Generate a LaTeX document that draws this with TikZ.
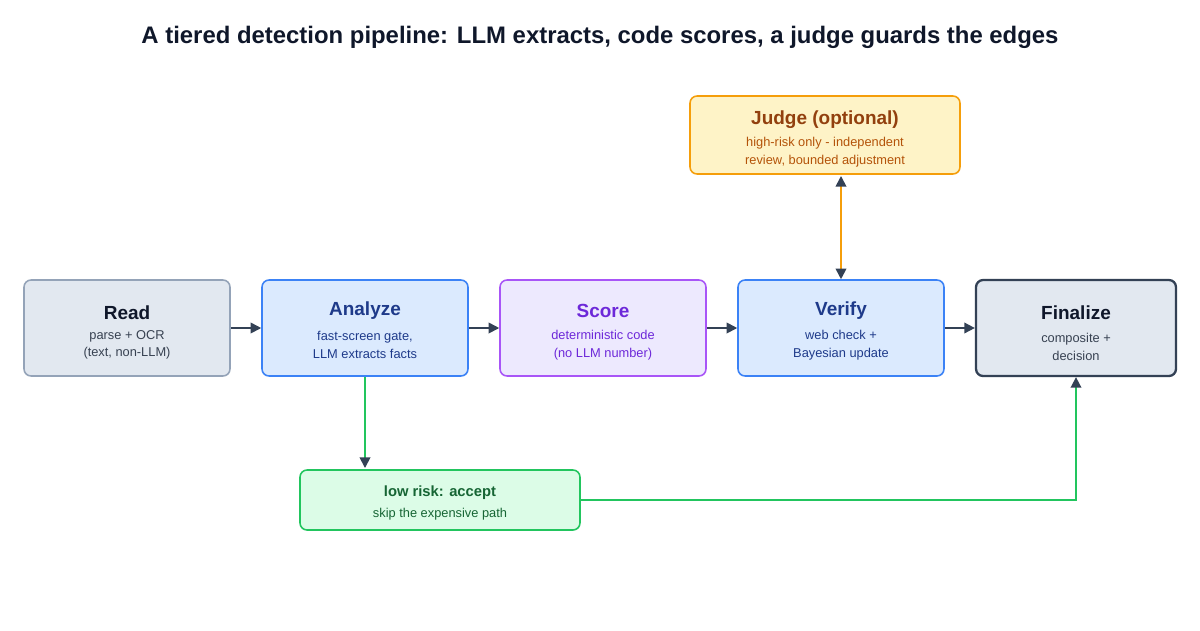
\documentclass[tikz,border=0pt]{standalone}
\usepackage{fontspec}
\setmainfont{Liberation Sans}
\usetikzlibrary{arrows.meta}
\definecolor{grayfill}{HTML}{E2E8F0}\definecolor{grayline}{HTML}{94A3B8}
\definecolor{bluefill}{HTML}{DBEAFE}\definecolor{blueline}{HTML}{3B82F6}\definecolor{bluetext}{HTML}{1E3A8A}
\definecolor{purfill}{HTML}{EDE9FE}\definecolor{purline}{HTML}{A855F7}\definecolor{purtext}{HTML}{6D28D9}
\definecolor{darkline}{HTML}{334155}\definecolor{darktext}{HTML}{0F172A}\definecolor{subgray}{HTML}{374151}
\definecolor{yelfill}{HTML}{FEF3C7}\definecolor{yelline}{HTML}{F59E0B}\definecolor{yeltext}{HTML}{92400E}\definecolor{yelsub}{HTML}{B45309}
\definecolor{grnfill}{HTML}{DCFCE7}\definecolor{grnline}{HTML}{22C55E}\definecolor{grntext}{HTML}{166534}
\tikzset{
 box/.style={draw, rounded corners=4pt, line width=0.9pt, minimum width=4.12cm, minimum height=1.92cm, align=center, inner sep=0pt},
 ttl/.style={font=\fontsize{10.8pt}{13pt}\selectfont\bfseries, align=center},
 sub/.style={font=\fontsize{7.3pt}{10pt}\selectfont, align=center},
 arr/.style={-{Triangle[length=6pt,width=6pt]}, draw=darkline, line width=1pt},
}
\begin{document}
\begin{tikzpicture}[x=0.02cm,y=-0.02cm]
\useasboundingbox[fill=white] (0,0) rectangle (1200,630);
\node[font=\fontsize{13.6pt}{16pt}\selectfont\bfseries, text=darktext] (title) at (600,37) {A tiered detection pipeline: LLM extracts, code scores, a judge guards the edges};
\node[box, fill=grayfill, draw=grayline] (read) at (127,328) {};
\node[ttl,text=darktext] at (127,313) {Read};
\node[sub,text=subgray] at (127,345) {parse + OCR\\(text, non-LLM)};
\node[box, fill=bluefill, draw=blueline] (ana) at (365,328) {};
\node[ttl,text=bluetext] at (365,311) {Analyze};
\node[sub,text=bluetext] at (365,345) {fast-screen gate,\\LLM extracts facts};
\node[box, fill=purfill, draw=purline] (sco) at (603,328) {};
\node[ttl,text=purtext] at (603,311) {Score};
\node[sub,text=purtext] at (603,345) {deterministic code\\(no LLM number)};
\node[box, fill=bluefill, draw=blueline] (ver) at (841,328) {};
\node[ttl,text=bluetext] at (841,311) {Verify};
\node[sub,text=bluetext] at (841,345) {web check +\\Bayesian update};
\node[box, fill=grayfill, draw=darkline, line width=1.3pt, minimum width=4cm] (fin) at (1076,328) {};
\node[ttl,text=darktext] at (1076,313) {Finalize};
\node[sub,text=subgray] at (1076,347) {composite +\\decision};
\node[box, fill=yelfill, draw=yelline, minimum width=5.4cm, minimum height=1.56cm] (jud) at (825,135) {};
\node[ttl,text=yeltext] at (825,120) {Judge (optional)};
\node[sub,text=yelsub] at (825,152) {high-risk only - independent\\review, bounded adjustment};
\node[box, fill=grnfill, draw=grnline, minimum width=5.6cm, minimum height=1.2cm] (low) at (440,500) {};
\node[ttl,text=grntext,font=\fontsize{8.4pt}{10pt}\selectfont\bfseries] at (440,493) {low risk: accept};
\node[sub,text=grntext] at (440,514) {skip the expensive path};
\draw[arr] (read) -- (ana);
\draw[arr] (ana) -- (sco);
\draw[arr] (sco) -- (ver);
\draw[arr] (ver) -- (fin);
\draw[arr, draw=grnline, -{Triangle[length=6pt,width=6pt,color=darkline]}] (ana.south) -- (365,468);
\draw[draw=grnline, line width=1pt] (low.east) -- (1076,500) -- (1076,392);
\draw[arr, draw=grnline, -{Triangle[length=6pt,width=6pt,color=darkline]}] (1076,400) -- (fin.south);
\draw[draw=yelline, line width=1pt, {Triangle[length=6pt,width=6pt,color=darkline]}-{Triangle[length=6pt,width=6pt,color=darkline]}] (841,176) -- (ver.north);
\end{tikzpicture}
\end{document}
